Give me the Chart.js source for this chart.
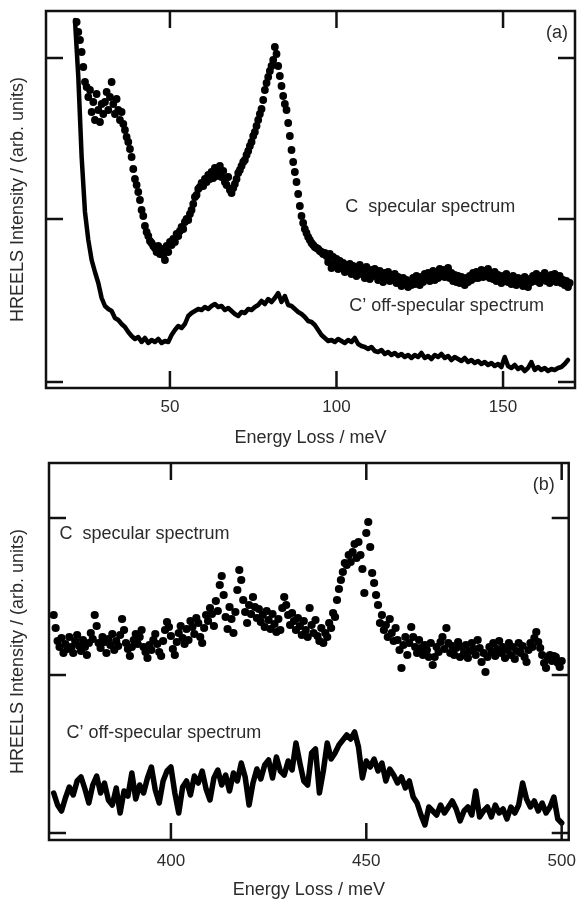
<!DOCTYPE html>
<html>
<head>
<meta charset="utf-8">
<script src="https://cdn.jsdelivr.net/npm/chart.js@4"></script>
<style>
  html, body { margin: 0; padding: 0; background: #fff; overflow: hidden; }
  #chartA { position: absolute; left: 0; top: 0; }
  #chartB { position: absolute; left: 0; top: 450px; }
</style>
</head>
<body>
<canvas id="chartA" width="587" height="450"></canvas>
<canvas id="chartB" width="587" height="449"></canvas>
<script>
// ---- panel (a): 20-170 meV ----
const xTicksA = [50, 100, 150];
const yTicksA = [0, 163, 324];

// specular spectrum C, dots, 22.0 .. 170.0 meV every 0.5 meV
const specStartA = 22, specStepA = 0.5;
const specA = [
  360, 350, 342, 330, 315, 300, 295, 285, 292, 270,
  280, 262, 288, 272, 260, 278, 268, 280, 290, 272,
  285, 300, 278, 268, 283, 272, 262, 270, 258, 252,
  245, 240, 233, 225, 213, 203, 197, 190, 182, 172,
  166, 156, 150, 146, 141, 139, 136, 134, 130, 136,
  128, 133, 127, 122, 136, 130, 140, 137, 143, 140,
  148, 146, 151, 155, 153, 160, 163, 162, 168, 172,
  178, 185, 187, 193, 195, 199, 196, 203, 200, 207,
  203, 210, 204, 214, 206, 210, 216, 205, 211, 200,
  197, 205, 192, 189, 194, 198, 203, 209, 212, 216,
  220, 222, 227, 231, 236, 240, 246, 250, 256, 262,
  268, 273, 282, 292, 299, 305, 311, 316, 322, 335,
  328, 316, 306, 296, 286, 278, 272, 259, 246, 232,
  220, 210, 200, 188, 176, 166, 159, 153, 149, 145,
  142, 139, 137, 135, 134, 133, 131, 130, 128, 129,
  126, 120, 128, 114, 125, 118, 123, 113, 121, 115,
  119, 110, 117, 112, 118, 108, 116, 111, 106, 114,
  117, 108, 113, 104, 115, 109, 103, 112, 106, 113,
  107, 102, 111, 105, 100, 109, 104, 110, 101, 107,
  103, 108, 99, 105, 101, 96, 104, 99, 102, 95,
  100, 97, 104, 98, 106, 101, 97, 105, 100, 108,
  103, 109, 101, 106, 111, 102, 108, 104, 113, 106,
  112, 105, 110, 114, 104, 109, 101, 107, 100, 106,
  99, 105, 101, 97, 104, 100, 106, 102, 109, 104,
  110, 104, 108, 112, 105, 111, 106, 113, 104, 109,
  103, 110, 101, 107, 104, 99, 106, 101, 108, 100,
  104, 98, 106, 100, 97, 104, 99, 103, 96, 105,
  99, 95, 103, 100, 106, 101, 108, 102, 99, 106,
  103, 109, 101, 105, 99, 107, 102, 108, 100, 104,
  106, 99, 102, 97, 101, 95, 99
];

// off-specular spectrum C', line, 21.5 .. 169.5 meV every 1 meV
const offStartA = 21.5, offStepA = 1;
const offA = [
  362, 305, 225, 170, 142, 122, 110, 99, 84, 76,
  73, 71, 64, 62, 58, 55, 50, 46, 43, 45,
  40, 44, 39, 42, 40, 43, 39, 41, 40, 47,
  52, 56, 54, 58, 66, 69, 71, 73, 72, 75,
  73, 76, 78, 75, 76, 72, 74, 71, 68, 66,
  70, 69, 73, 72, 75, 77, 81, 78, 83, 80,
  84, 89, 80, 86, 77, 76, 73, 70, 68, 65,
  61, 60, 57, 52, 47, 44, 41, 42, 40, 43,
  41, 39, 42, 40, 44, 38, 36, 35, 33, 35,
  31, 30, 32, 28, 30, 27, 29, 26, 28, 25,
  27, 24, 27, 25, 29, 24, 26, 23, 27, 25,
  28, 24, 26, 22, 25, 23, 21, 24, 20, 22,
  19, 21, 18, 20, 17, 19, 16, 18, 15, 25,
  16, 14, 17, 13, 15, 11, 14, 20, 12, 15,
  12, 14, 11, 13, 12, 14, 15, 18, 22
];

// ---- panel (b): 370-500 meV ----
const xTicksB = [400, 450, 500];
const yTicksB = [0, 158, 315];

// specular spectrum C, dots, 370.0 .. 500.0 meV every 0.5 meV
const specStartB = 370, specStepB = 0.5;
const specB = [
  218, 205, 192, 186, 195, 180, 189, 184, 196, 186,
  180, 192, 198, 187, 182, 193, 186, 178, 190, 200,
  194, 218, 207, 190, 185, 196, 191, 180, 194, 188,
  199, 183, 192, 187, 198, 214, 203, 190, 184, 177,
  186, 193, 199, 189, 196, 203, 186, 181, 175, 188,
  183, 193, 199, 189, 181, 177, 192, 203, 211, 206,
  197, 184, 178, 191, 200, 207, 195, 189, 204, 193,
  212, 206, 199, 215, 210, 196, 190, 205, 218, 212,
  225, 219, 207, 232, 222, 248, 257, 238, 216, 204,
  226, 214, 200, 221, 243, 263, 253, 233, 221, 210,
  228, 219, 236, 226, 215, 224, 211, 218, 206, 222,
  213, 204, 219, 209, 201, 214, 203, 225, 236, 228,
  218, 208, 220, 212, 203, 215, 207, 198, 212, 203,
  196, 225, 208, 200, 213, 197, 192, 205, 190, 200,
  196, 210, 205, 220, 216, 233, 244, 253, 261, 270,
  268, 278, 271, 281, 289, 275, 291, 278, 264, 240,
  300, 311, 286, 260, 250, 238, 228, 210, 218, 203,
  208, 196, 214, 200, 192, 205, 193, 183, 165, 188,
  196, 178, 190, 206, 196, 186, 180, 193, 185, 178,
  188, 183, 176, 190, 168, 176, 186, 181, 191, 196,
  184, 205, 190, 180, 187, 178, 185, 191, 176, 186,
  180, 188, 175, 182, 190, 184, 178, 193, 185, 171,
  180, 161, 176, 186, 181, 190, 177, 184, 192, 180,
  186, 175, 183, 190, 178, 186, 174, 182, 190, 180,
  187, 176, 171, 183, 190, 186, 195, 201, 191, 185,
  178, 170, 165, 174, 178, 172, 177, 176, 170, 166,
  172
];

// off-specular spectrum C', line, 370 .. 500 meV every 1 meV
const offStartB = 370, offStepB = 1;
const offB = [
  40, 28, 22, 35, 46, 38, 52, 56, 44, 30,
  48, 57, 40, 50, 33, 28, 45, 20, 42, 37,
  60, 34, 48, 40, 55, 66, 43, 30, 52, 62,
  66, 40, 20, 46, 52, 38, 57, 50, 62, 44,
  33, 55, 63, 48, 58, 42, 60, 52, 70, 56,
  28, 50, 64, 54, 68, 73, 55, 76, 62, 58,
  72, 63, 90, 70, 52, 48, 80, 84, 40, 62,
  90, 74, 80, 88, 93, 98, 94, 101, 86, 55,
  72, 66, 74, 62, 70, 52, 64, 58, 50, 56,
  45, 52, 36, 30, 18, 8, 26, 22, 18, 28,
  20, 26, 32, 24, 12, 22, 26, 18, 42, 16,
  22, 26, 16, 28, 20, 24, 14, 26, 20, 28,
  50, 34, 26, 32, 22, 30, 20, 26, 36, 14,
  10
];

const FONT = '"Liberation Sans", Arial, sans-serif';
const TEXT = '#2b2b2b';

function toPoints(start, step, vals) {
  return vals.map((v, i) => ({ x: start + i * step, y: v }));
}

// box frame, inward ticks on all four sides, and the text labels inside the plot
const frameAndLabels = {
  id: 'frameAndLabels',
  afterDatasetsDraw(chart, args, opts) {
    const { ctx, chartArea: a, scales: { x, y } } = chart;
    const L = opts.tickLen;
    ctx.save();
    ctx.strokeStyle = '#111';
    ctx.lineWidth = 2.5;
    ctx.beginPath();
    x.ticks.forEach(t => {
      const p = x.getPixelForValue(t.value);
      ctx.moveTo(p, a.bottom); ctx.lineTo(p, a.bottom - L);
      ctx.moveTo(p, a.top); ctx.lineTo(p, a.top + L);
    });
    y.ticks.forEach(t => {
      const p = y.getPixelForValue(t.value);
      ctx.moveTo(a.left, p); ctx.lineTo(a.left + L, p);
      ctx.moveTo(a.right, p); ctx.lineTo(a.right - L, p);
    });
    ctx.stroke();
    ctx.strokeRect(a.left, a.top, a.right - a.left, a.bottom - a.top);

    ctx.fillStyle = TEXT;
    ctx.font = '18px ' + FONT;
    ctx.textBaseline = 'middle';
    opts.labels.forEach(l => {
      ctx.textAlign = l.align || 'left';
      ctx.fillText(l.text, x.getPixelForValue(l.x), y.getPixelForValue(l.y));
    });
    ctx.restore();
  }
};

function makePanel(canvasId, cfg) {
  const ctx = document.getElementById(canvasId).getContext('2d');
  return new Chart(ctx, {
    type: 'scatter',
    data: {
      datasets: [
        {
          data: cfg.dots,
          showLine: false,
          pointRadius: cfg.dotRadius,
          pointBorderWidth: 0,
          pointBackgroundColor: '#000',
          pointBorderColor: '#000'
        },
        {
          data: cfg.line,
          showLine: true,
          pointRadius: 0,
          borderColor: '#000',
          borderWidth: cfg.lineWidth,
          borderJoinStyle: 'round',
          borderCapStyle: 'round',
          tension: 0
        }
      ]
    },
    options: {
      responsive: false,
      animation: false,
      devicePixelRatio: 1,
      events: [],
      layout: { padding: cfg.padding },
      plugins: {
        legend: { display: false },
        tooltip: { enabled: false },
        frameAndLabels: { tickLen: 17, labels: cfg.labels }
      },
      scales: {
        x: {
          type: 'linear',
          min: cfg.xMin, max: cfg.xMax,
          afterBuildTicks: s => { s.ticks = cfg.xTicks.map(v => ({ value: v })); },
          afterFit: s => { s.height = cfg.xHeight; },
          grid: { display: false, drawTicks: false },
          border: { display: false },
          ticks: { padding: cfg.tickPad, color: TEXT, font: { family: FONT, size: 17 } },
          title: {
            display: true, text: 'Energy Loss / meV', color: TEXT,
            font: { family: FONT, size: 18, lineHeight: 1 },
            padding: { top: 0, bottom: cfg.titlePad }
          }
        },
        y: {
          type: 'linear',
          min: cfg.yMin, max: cfg.yMax,
          afterBuildTicks: s => { s.ticks = cfg.yTicks.map(v => ({ value: v })); },
          afterFit: s => { s.width = cfg.yWidth; },
          grid: { display: false, drawTicks: false },
          border: { display: false },
          ticks: { display: false },
          title: {
            display: true, text: 'HREELS Intensity / (arb. units)', color: TEXT,
            font: { family: FONT, size: 18, lineHeight: 1 },
            padding: { top: 9, bottom: 0 }
          }
        }
      }
    },
    plugins: [frameAndLabels]
  });
}

makePanel('chartA', {
  dots: toPoints(specStartA, specStepA, specA),
  line: toPoints(offStartA, offStepA, offA),
  dotRadius: 3.9, lineWidth: 4.5,
  xMin: 12.8, xMax: 171.6, xTicks: xTicksA,
  yMin: -6, yMax: 371, yTicks: yTicksA,
  padding: { left: 0, top: 11, right: 12, bottom: 0 },
  yWidth: 46, xHeight: 62, tickPad: 9, titlePad: 3,
  labels: [
    { text: 'C  specular spectrum', x: 102.6, y: 175 },
    { text: 'C\u2019 off-specular spectrum', x: 103.8, y: 76 },
    { text: '(a)', x: 169.5, y: 349, align: 'right' }
  ]
});

makePanel('chartB', {
  dots: toPoints(specStartB, specStepB, specB),
  line: toPoints(offStartB, offStepB, offB),
  dotRadius: 4.1, lineWidth: 5.5,
  xMin: 368.8, xMax: 501.8, xTicks: xTicksB,
  yMin: -7, yMax: 370, yTicks: yTicksB,
  padding: { left: 0, top: 13, right: 10, bottom: 0 },
  yWidth: 49, xHeight: 59, tickPad: 11, titlePad: 0,
  labels: [
    { text: 'C  specular spectrum', x: 371.5, y: 299 },
    { text: 'C\u2019 off-specular spectrum', x: 373.3, y: 100 },
    { text: '(b)', x: 498.2, y: 348, align: 'right' }
  ]
});
</script>
</body>
</html>
